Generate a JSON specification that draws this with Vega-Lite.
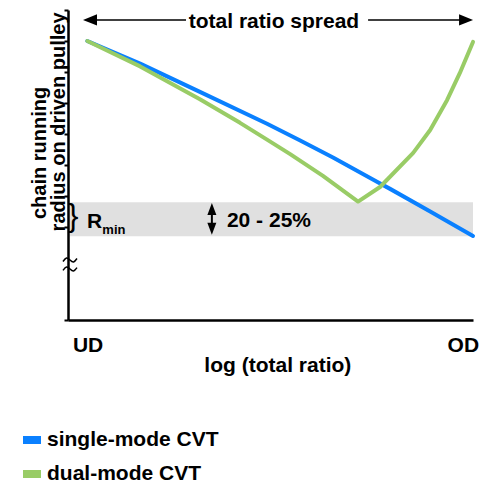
{
  "$schema": "https://vega.github.io/schema/vega-lite/v6.json",
  "width": 405,
  "height": 310,
  "autosize": "none",
  "padding": {"left": 68, "top": 10, "right": 7, "bottom": 165},
  "background": "white",
  "config": {
    "view": {"stroke": null},
    "font": "Liberation Sans",
    "text": {"font": "Liberation Sans", "color": "#000"}
  },
  "datasets": {
    "curves": [
      {"series": "single-mode CVT", "u": 0, "v": 90},
      {"series": "single-mode CVT", "u": 13.7, "v": 82.7},
      {"series": "single-mode CVT", "u": 29.2, "v": 73.6},
      {"series": "single-mode CVT", "u": 46.6, "v": 63.3},
      {"series": "single-mode CVT", "u": 55.2, "v": 57.9},
      {"series": "single-mode CVT", "u": 63.7, "v": 52.4},
      {"series": "single-mode CVT", "u": 75.1, "v": 44.6},
      {"series": "single-mode CVT", "u": 78.5, "v": 42.3},
      {"series": "single-mode CVT", "u": 88.9, "v": 35.0},
      {"series": "single-mode CVT", "u": 100, "v": 27.1},
      {"series": "dual-mode CVT", "u": 0, "v": 90},
      {"series": "dual-mode CVT", "u": 13.7, "v": 81.8},
      {"series": "dual-mode CVT", "u": 29.2, "v": 71.2},
      {"series": "dual-mode CVT", "u": 39.6, "v": 63.6},
      {"series": "dual-mode CVT", "u": 46.6, "v": 58.2},
      {"series": "dual-mode CVT", "u": 52.6, "v": 53.5},
      {"series": "dual-mode CVT", "u": 61.1, "v": 46.5},
      {"series": "dual-mode CVT", "u": 70.2, "v": 38.2},
      {"series": "dual-mode CVT", "u": 75.9, "v": 42.9},
      {"series": "dual-mode CVT", "u": 84.5, "v": 53.9},
      {"series": "dual-mode CVT", "u": 88.9, "v": 61.3},
      {"series": "dual-mode CVT", "u": 93.3, "v": 71.0},
      {"series": "dual-mode CVT", "u": 96.6, "v": 79.7},
      {"series": "dual-mode CVT", "u": 100, "v": 89.7}
    ],
    "band": [{"u": -4.6, "u2": 100, "v": 27, "v2": 38}],
    "spreadLines": [
      {"u": 0.7, "u2": 25.6, "v": 96.8},
      {"u": 72.8, "u2": 98.2, "v": 96.8}
    ],
    "leftHead": [{"u": 0.7, "v": 96.8}],
    "rightHead": [{"u": 98.2, "v": 96.8}],
    "rangeLine": [{"u": 32.3, "v": 29.4, "v2": 35.8}],
    "upHead": [{"u": 32.3, "v": 35.8}],
    "downHead": [{"u": 32.3, "v": 29.4}],
    "labels": [
      {"text": "total ratio spread", "u": 48.4, "v": 94.2},
      {"text": "UD", "u": 0.2, "v": -10.3},
      {"text": "OD", "u": 97.5, "v": -10.3},
      {"text": "log (total ratio)", "u": 49.4, "v": -16.8},
      {"text": "R", "u": 1.9, "v": 29.7},
      {"text": "20 - 25%", "u": 47.1, "v": 30.0}
    ],
    "subscript": [{"text": "min", "u": 6.9, "v": 27.7}],
    "yTitle": [
      {"text": "chain running", "u": -10.6, "v": 53.9},
      {"text": "radius on driven pulley", "u": -5.7, "v": 63.9}
    ],
    "brace": [{"text": "}", "u": -3.7, "v": 30.2}],
    "axisBreak": [
      {"wave": "upper", "k": 0, "u": -6.30, "v": 18.87},
      {"wave": "upper", "k": 1, "u": -5.39, "v": 20.0},
      {"wave": "upper", "k": 2, "u": -4.48, "v": 19.35},
      {"wave": "upper", "k": 3, "u": -3.57, "v": 18.71},
      {"wave": "upper", "k": 4, "u": -2.67, "v": 19.84},
      {"wave": "lower", "k": 0, "u": -6.30, "v": 16.0},
      {"wave": "lower", "k": 1, "u": -5.39, "v": 17.1},
      {"wave": "lower", "k": 2, "u": -4.48, "v": 16.45},
      {"wave": "lower", "k": 3, "u": -3.57, "v": 15.8},
      {"wave": "lower", "k": 4, "u": -2.67, "v": 16.9}
    ]
  },
  "encoding": {
    "x": {
      "field": "u",
      "type": "quantitative",
      "scale": {"domain": [-5, 100], "nice": false, "zero": false},
      "axis": {
        "title": null,
        "labels": false,
        "ticks": false,
        "grid": false,
        "domainColor": "#000",
        "domainWidth": 2.5,
        "zindex": 1
      }
    },
    "y": {
      "field": "v",
      "type": "quantitative",
      "scale": {"domain": [0, 100], "nice": false, "zero": false},
      "axis": {
        "title": null,
        "labels": false,
        "values": [0, 30, 40, 50, 60, 70, 80, 90, 100],
        "tickSize": 4,
        "tickWidth": 2,
        "tickColor": "#000",
        "grid": false,
        "domainColor": "#000",
        "domainWidth": 2.5,
        "zindex": 1
      }
    }
  },
  "layer": [
    {
      "data": {"name": "band"},
      "mark": {"type": "rect", "color": "#e0e0e0"},
      "encoding": {"x2": {"field": "u2"}, "y2": {"field": "v2"}}
    },
    {
      "data": {"name": "curves"},
      "mark": {"type": "line", "strokeWidth": 4, "strokeCap": "round", "strokeJoin": "round"},
      "encoding": {
        "color": {
          "field": "series",
          "type": "nominal",
          "sort": ["single-mode CVT", "dual-mode CVT"],
          "scale": {"domain": ["single-mode CVT", "dual-mode CVT"], "range": ["#0a80ff", "#99cc66"]},
          "legend": {
            "title": null,
            "orient": "none",
            "legendX": -49,
            "legendY": 417,
            "symbolType": "stroke",
            "symbolSize": 324,
            "symbolStrokeWidth": 8,
            "labelFont": "Liberation Sans",
            "labelFontSize": 21,
            "labelFontWeight": "bold",
            "labelColor": "#000",
            "labelLimit": 300,
            "labelOffset": 2,
            "rowPadding": 2
          }
        }
      }
    },
    {
      "data": {"name": "axisBreak"},
      "mark": {"type": "line", "color": "#000", "strokeWidth": 1.5, "interpolate": "natural"},
      "encoding": {
        "detail": {"field": "wave"},
        "order": {"field": "k"}
      }
    },
    {
      "data": {"name": "spreadLines"},
      "mark": {"type": "rule", "color": "#000", "strokeWidth": 1.5},
      "encoding": {"x2": {"field": "u2"}}
    },
    {
      "data": {"name": "leftHead"},
      "mark": {"type": "point", "shape": "M-1,0L1,-0.8L1,0.8Z", "size": 196, "filled": true, "color": "#000", "opacity": 1}
    },
    {
      "data": {"name": "rightHead"},
      "mark": {"type": "point", "shape": "M1,0L-1,-0.8L-1,0.8Z", "size": 196, "filled": true, "color": "#000", "opacity": 1}
    },
    {
      "data": {"name": "rangeLine"},
      "mark": {"type": "rule", "color": "#000", "strokeWidth": 2},
      "encoding": {"y2": {"field": "v2"}}
    },
    {
      "data": {"name": "upHead"},
      "mark": {"type": "point", "shape": "M0,-1L-0.75,1L0.75,1Z", "size": 144, "filled": true, "color": "#000", "opacity": 1}
    },
    {
      "data": {"name": "downHead"},
      "mark": {"type": "point", "shape": "M0,1L-0.75,-1L0.75,-1Z", "size": 144, "filled": true, "color": "#000", "opacity": 1}
    },
    {
      "data": {"name": "labels"},
      "mark": {"type": "text", "fontSize": 21, "fontWeight": "bold", "align": "center", "baseline": "alphabetic"},
      "encoding": {"text": {"field": "text"}}
    },
    {
      "data": {"name": "subscript"},
      "mark": {"type": "text", "fontSize": 13, "fontWeight": "bold", "align": "center", "baseline": "alphabetic"},
      "encoding": {"text": {"field": "text"}}
    },
    {
      "data": {"name": "yTitle"},
      "mark": {"type": "text", "fontSize": 20, "fontWeight": "bold", "align": "center", "baseline": "alphabetic", "angle": 270},
      "encoding": {"text": {"field": "text"}}
    },
    {
      "data": {"name": "brace"},
      "mark": {"type": "text", "fontSize": 32, "fontWeight": "normal", "align": "center", "baseline": "alphabetic"},
      "encoding": {"text": {"field": "text"}}
    }
  ]
}
